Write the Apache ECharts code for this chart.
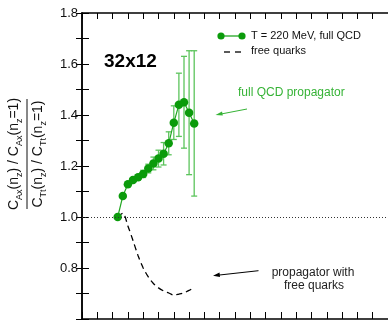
<!DOCTYPE html>
<html>
<head>
<meta charset="utf-8">
<script src="https://cdn.jsdelivr.net/npm/echarts@6/dist/echarts.min.js"></script>
<style>html,body{margin:0;padding:0;background:#fff;}#c{width:388px;height:320px;}</style>
</head>
<body>
<div id="c"></div>
<script>
// ---- data ----
const xValues = [2.333, 2.667, 3.0, 3.333, 3.667, 4.0, 4.333, 4.667, 5.0, 5.333, 5.667, 6.0, 6.333, 6.667, 7.0, 7.333];
const qcdValues = [1.0, 1.082, 1.128, 1.145, 1.156, 1.169, 1.19, 1.21, 1.229, 1.248, 1.289, 1.37, 1.44, 1.45, 1.409, 1.367];
const qcdErrors = [0.0, 0.005, 0.006, 0.007, 0.009, 0.014, 0.017, 0.025, 0.033, 0.044, 0.045, 0.066, 0.124, 0.18, 0.243, 0.285];
const freeValues = [1.0, 1.015, 0.965, 0.908, 0.848, 0.80, 0.765, 0.739, 0.722, 0.71, 0.702, 0.694, 0.698, 0.703, 0.712, 0.724];
const yTickLabels = ['0.8', '1.0', '1.2', '1.4', '1.6', '1.8'];
const legendNames = ['T = 220 MeV, full QCD', 'free quarks'];

const FONT = '"Liberation Sans", Arial, Helvetica, sans-serif';
const MARK = '#0b9b0b', LINE = '#22a622', ERR = '#5cc45c', GTXT = '#36b336', TXT = '#111';

const qcdData = xValues.map((x, i) => [x, qcdValues[i]]);
const errData = xValues.map((x, i) => [x, qcdValues[i] - qcdErrors[i], qcdValues[i] + qcdErrors[i]]);
const freeData = xValues.map((x, i) => [x, freeValues[i]]);

const chart = echarts.init(document.getElementById('c'), null, {renderer: 'canvas'});

const axisLine = {show: true, lineStyle: {color: '#000', width: 1.5}};
const xCommon = {type: 'value', min: 0, max: 20, interval: 1, splitLine: {show: false}, axisLine: axisLine};
const yCommon = {type: 'value', min: 0.6, max: 1.8, interval: 0.1, splitLine: {show: false}, axisLine: axisLine};

function yLabel(v) {
  const s = v.toFixed(1);
  return yTickLabels.indexOf(s) >= 0 ? s : '';
}

const option = {
  animation: false,
  backgroundColor: '#fff',
  grid: {left: 82, top: 13, right: -1.5, bottom: 1, containLabel: false},
  xAxis: [
    Object.assign({}, xCommon, {position: 'bottom', axisTick: {inside: true, length: 7, lineStyle: {color: '#000', width: 1}}, axisLabel: {show: false}}),
    Object.assign({}, xCommon, {position: 'top', axisTick: {inside: true, length: 6, lineStyle: {color: '#000', width: 1}}, axisLabel: {show: false}})
  ],
  yAxis: [
    Object.assign({}, yCommon, {position: 'left', axisTick: {inside: true, length: 7, lineStyle: {color: '#000', width: 1}},
      axisLabel: {show: true, formatter: yLabel, color: TXT, fontSize: 13, fontFamily: FONT, margin: 4}}),
    Object.assign({}, yCommon, {position: 'right', axisTick: {inside: true, length: 6, lineStyle: {color: '#000', width: 1}}, axisLabel: {show: false}})
  ],
  series: [
    {
      type: 'line', name: legendNames[1], data: freeData, symbol: 'none', smooth: 0.3,
      lineStyle: {color: '#000', width: 1.3, type: [6, 4]}, z: 2,
      markLine: {
        silent: true, symbol: 'none', label: {show: false},
        lineStyle: {color: '#333', width: 1, type: [1, 2]},
        data: [{yAxis: 1.0}]
      }
    },
    {
      type: 'custom', name: 'err', data: errData, z: 3,
      renderItem: function (params, api) {
        const x = api.value(0), lo = api.value(1), hi = api.value(2);
        const a = api.coord([x, lo]), b = api.coord([x, hi]);
        const w = 3;
        const st = {stroke: ERR, lineWidth: 1.3};
        return {type: 'group', children: [
          {type: 'line', shape: {x1: a[0], y1: a[1], x2: b[0], y2: b[1]}, style: st},
          {type: 'line', shape: {x1: a[0] - w, y1: a[1], x2: a[0] + w, y2: a[1]}, style: st},
          {type: 'line', shape: {x1: b[0] - w, y1: b[1], x2: b[0] + w, y2: b[1]}, style: st}
        ]};
      }
    },
    {
      type: 'line', name: legendNames[0], data: qcdData, symbol: 'circle', symbolSize: 8.5,
      itemStyle: {color: MARK}, lineStyle: {color: LINE, width: 1.2}, z: 4
    }
  ],
  graphic: [
    // y-axis title as fraction
    {
      type: 'group', x: 27, y: 154, rotation: Math.PI / 2,
      children: [
        {type: 'text', x: 0, y: -13, style: {
          text: '{m|C}{s|Ax}{m|(n}{s|z}{m|) / C}{s|Ax}{m|(n}{s|z}{m|=1)}',
          align: 'center', verticalAlign: 'middle',
          rich: {
            m: {fontSize: 14, fontFamily: FONT, fill: TXT, lineHeight: 20},
            s: {fontSize: 9, fontFamily: FONT, fill: TXT, lineHeight: 10, verticalAlign: 'bottom'}
          }
        }},
        {type: 'line', shape: {x1: -55, y1: 0, x2: 55, y2: 0}, style: {stroke: TXT, lineWidth: 1}},
        {type: 'text', x: 0, y: 11, style: {
          text: '{m|C}{s|Tt}{m|(n}{s|z}{m|) / C}{s|Tt}{m|(n}{s|z}{m|=1)}',
          align: 'center', verticalAlign: 'middle',
          rich: {
            m: {fontSize: 14, fontFamily: FONT, fill: TXT, lineHeight: 20},
            s: {fontSize: 9, fontFamily: FONT, fill: TXT, lineHeight: 10, verticalAlign: 'bottom'}
          }
        }}
      ]
    },
    // lattice size label
    {type: 'text', x: 104, y: 52, style: {text: '32x12', fontSize: 19, fontWeight: 'bold', fontFamily: FONT, fill: '#000', verticalAlign: 'alphabetic'}},
    // legend
    {type: 'line', shape: {x1: 221, y1: 36, x2: 242, y2: 36}, style: {stroke: LINE, lineWidth: 1.3}},
    {type: 'circle', shape: {cx: 221, cy: 36, r: 3.6}, style: {fill: MARK}},
    {type: 'circle', shape: {cx: 242, cy: 36, r: 3.6}, style: {fill: MARK}},
    {type: 'text', x: 251, y: 36, style: {text: legendNames[0], fontSize: 11, fontFamily: FONT, fill: TXT, verticalAlign: 'middle'}},
    {type: 'line', shape: {x1: 224, y1: 52, x2: 230, y2: 52}, style: {stroke: '#000', lineWidth: 1.3}},
    {type: 'line', shape: {x1: 235, y1: 52, x2: 241, y2: 52}, style: {stroke: '#000', lineWidth: 1.3}},
    {type: 'text', x: 251, y: 51, style: {text: legendNames[1], fontSize: 11, fontFamily: FONT, fill: TXT, verticalAlign: 'middle'}},
    // annotations
    {type: 'text', x: 238, y: 93, style: {text: 'full QCD propagator', fontSize: 12, fontFamily: FONT, fill: GTXT, verticalAlign: 'middle'}},
    {type: 'line', shape: {x1: 247, y1: 109, x2: 218, y2: 114.6}, style: {stroke: GTXT, lineWidth: 1}},
    {type: 'polygon', shape: {points: [[215.5, 115.1], [222, 111.5], [222.8, 115.6]]}, style: {fill: GTXT}},
    {type: 'text', x: 313, y: 273, style: {text: 'propagator with', fontSize: 12, fontFamily: FONT, fill: '#222', align: 'center', verticalAlign: 'middle'}},
    {type: 'text', x: 314, y: 286, style: {text: 'free quarks', fontSize: 12, fontFamily: FONT, fill: '#222', align: 'center', verticalAlign: 'middle'}},
    {type: 'line', shape: {x1: 258.5, y1: 270.7, x2: 216, y2: 275.4}, style: {stroke: '#000', lineWidth: 1}},
    {type: 'polygon', shape: {points: [[213, 275.7], [219.5, 272.6], [220, 277]]}, style: {fill: '#000'}}
  ]
};
chart.setOption(option);
</script>
</body>
</html>
